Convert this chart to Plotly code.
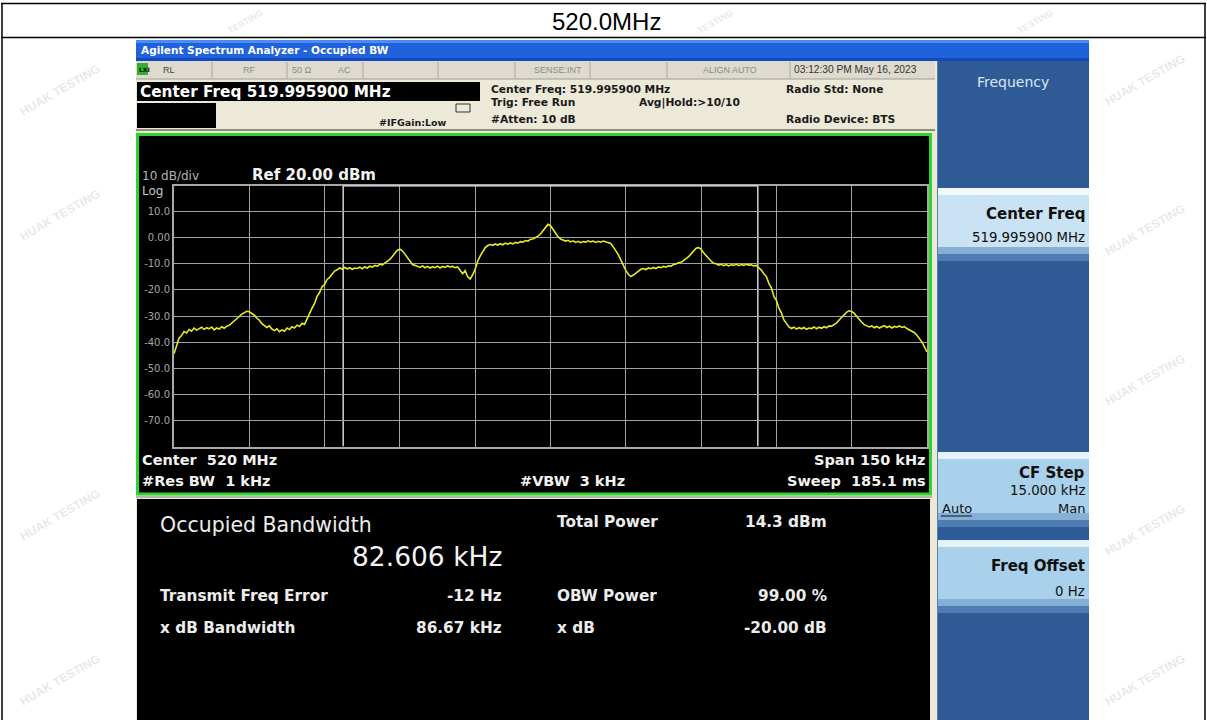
import plotly.graph_objects as go

# ---------------- data ----------------
FREQ_START_KHZ = -75.0      # center 520 MHz, span 150 kHz
FREQ_STEP_KHZ = 0.5
Y_REF_DBM = 20.0
Y_BOTTOM_DBM = -80.0

level_dbm = [
    # -75 .. -70
    -44.5, -41.0, -38.5, -37.5, -36.0, -36.5, -35.2, -35.8, -34.6, -35.4, -34.8,
    # -69.5 .. -60
    -34.3, -35.1, -34.5, -34.9, -34.2, -35.3, -34.6, -35.0, -34.1, -34.7,
    -33.9, -33.6, -32.8, -32.1, -31.0, -30.2, -29.3, -28.7, -28.2, -28.4,
    # -59.5 .. -50
    -28.9, -29.7, -30.8, -31.6, -32.9, -33.5, -34.4, -33.8, -35.0, -35.6,
    -34.9, -36.0, -35.3, -35.8, -34.6, -35.2, -34.1, -34.6, -33.5, -34.0,
    # -49.5 .. -40
    -32.8, -33.2, -31.0, -29.5, -27.0, -25.2, -22.5, -21.0, -18.8, -17.9,
    -16.0, -15.2, -13.9, -12.8, -12.3, -11.6, -12.0, -11.4, -11.9, -11.5,
    # -39.5 .. -30
    -12.1, -11.6, -11.8, -11.3, -11.9, -11.2, -11.6, -10.9, -11.3, -10.6,
    -10.9, -10.2, -10.4, -9.7, -9.2, -8.3, -7.2, -6.0, -4.8, -4.4,
    # -29.5 .. -20
    -5.0, -6.3, -7.8, -9.2, -10.3, -10.6, -10.9, -11.4, -10.8, -11.5,
    -11.0, -11.6, -11.1, -11.5, -10.9, -11.6, -11.0, -11.4, -10.8, -11.2,
    # -19.5 .. -10
    -11.0, -11.5, -11.2, -12.5, -13.8, -12.6, -15.0, -15.8, -14.2, -12.0,
    -9.0, -7.0, -5.5, -3.8, -3.0, -2.6, -2.9, -2.4, -2.8, -2.3,
    # -9.5 .. 0
    -2.7, -2.1, -2.5, -2.0, -2.4, -1.8, -2.1, -1.5, -1.7, -1.1,
    -1.3, -0.6, -0.5, 0.0, 0.6, 1.4, 2.8, 4.2, 5.1, 4.6,
    # 0.5 .. 10
    3.4, 1.8, 0.4, -0.5, -0.9, -1.3, -1.0, -1.6, -1.2, -1.8,
    -1.4, -1.9, -1.5, -1.7, -1.2, -1.6, -1.3, -1.8, -1.4, -1.7,
    # 10.5 .. 20
    -1.3, -1.5, -1.9, -2.2, -3.5, -4.8, -6.5, -8.5, -10.8, -12.5,
    -14.0, -14.9, -14.3, -13.5, -12.6, -12.1, -11.8, -12.2, -11.6, -11.9,
    # 20.5 .. 30
    -11.4, -11.8, -11.2, -11.5, -11.0, -11.3, -10.8, -10.9, -10.3, -10.1,
    -9.6, -9.4, -8.8, -8.2, -7.3, -6.2, -5.0, -4.0, -3.8, -4.4,
    # 30.5 .. 40
    -5.8, -6.9, -8.3, -9.0, -9.8, -10.0, -10.5, -10.2, -10.7, -10.3,
    -10.8, -10.4, -10.6, -10.1, -10.7, -10.3, -10.6, -10.2, -10.5, -10.4,
    # 40.5 .. 50
    -10.8, -10.6, -11.5, -12.4, -13.8, -14.9, -17.5, -19.2, -22.5, -24.0,
    -27.0, -28.8, -31.5, -32.8, -34.2, -34.8, -34.3, -35.0, -34.5, -34.9,
    # 50.5 .. 60
    -34.4, -35.1, -34.6, -34.8, -34.2, -34.9, -34.3, -34.7, -34.1, -34.5,
    -33.8, -33.9, -33.2, -32.6, -31.5, -30.4, -29.3, -28.5, -28.0, -28.3,
    # 60.5 .. 70
    -29.0, -30.2, -31.5, -32.4, -33.3, -33.6, -34.2, -33.8, -34.5, -34.0,
    -34.6, -34.1, -33.7, -34.4, -33.9, -34.6, -34.0, -34.3, -33.8, -34.4,
    # 70.5 .. 75
    -34.1, -34.8, -35.3, -35.9, -36.4, -37.4, -38.5, -40.0, -41.8, -43.8,
]
freq_khz = [FREQ_START_KHZ + i * FREQ_STEP_KHZ for i in range(len(level_dbm))]

x_grid_khz = [-60, -45, -30, -15, 0, 15, 30, 45, 60]
y_tick_vals = [10, 0, -10, -20, -30, -40, -50, -60, -70]
y_tick_text = ["10.0", "0.00", "-10.0", "-20.0", "-30.0", "-40.0", "-50.0", "-60.0", "-70.0"]

OBW_KHZ = 82.606

result_left_labels = ["Transmit Freq Error", "x dB Bandwidth"]
result_left_values = ["-12 Hz", "86.67 kHz"]
result_right_labels = ["Total Power", "OBW Power", "x dB"]
result_right_values = ["14.3 dBm", "99.00 %", "-20.00 dB"]

# ---------------- helpers ----------------
W, H = 1207, 720
SANS = "DejaVu Sans, Verdana, sans-serif"
ARIAL = "Liberation Sans, Arial, sans-serif"
RIGHT_EDGE = 1089      # right edge of the instrument screenshot
SK_TEXT_R = 1086       # right edge of soft-key texts


def px(x):
    return x / W


def py(y):
    return 1 - y / H


shapes = []
annotations = []


def rect(x0, y0, x1, y1, fill, line_color=None, line_width=0, layer="below"):
    shapes.append(dict(type="rect", xref="paper", yref="paper",
                       x0=px(x0), x1=px(x1), y0=py(y1), y1=py(y0),
                       fillcolor=fill,
                       line=dict(width=line_width, color=line_color or fill),
                       layer=layer))


def hline(x0, x1, y, color, width=1, layer="below"):
    shapes.append(dict(type="line", xref="paper", yref="paper",
                       x0=px(x0), x1=px(x1), y0=py(y), y1=py(y),
                       line=dict(color=color, width=width), layer=layer))


def vline(x, y0, y1, color, width=1, layer="below"):
    shapes.append(dict(type="line", xref="paper", yref="paper",
                       x0=px(x), x1=px(x), y0=py(y0), y1=py(y1),
                       line=dict(color=color, width=width), layer=layer))


def txt(x, y, s, size, color, anchor="left", bold=False, family=SANS, angle=0):
    annotations.append(dict(x=px(x), y=py(y), xref="paper", yref="paper",
                            text=f"<b>{s}</b>" if bold else s, showarrow=False,
                            xanchor=anchor, yanchor="middle", borderpad=0,
                            textangle=angle,
                            font=dict(size=size, color=color, family=family)))


# ---------------- faint watermarks (drawn first, underneath) ----------------
for (wx, wy) in [(1145, 80), (1145, 230), (1145, 380), (1145, 530), (1145, 680),
                 (60, 90), (60, 215), (60, 515), (60, 680)]:
    txt(wx, wy, "HUAK TESTING", 12, "rgba(175,175,175,0.30)", anchor="center",
        bold=True, family=ARIAL, angle=-30)
for (wx, wy) in [(245, 22), (715, 22), (1035, 22)]:
    txt(wx, wy, "TESTING", 9, "rgba(175,175,175,0.30)", anchor="center",
        bold=True, family=ARIAL, angle=-30)

# ---------------- outer document frame ----------------
hline(1, 1206, 3.5, "#000000", 1.5)
hline(1, 1206, 37.5, "#000000", 1.5)
vline(2, 3, 720, "#000000", 1.5)
vline(1205, 3, 720, "#000000", 1.5)
txt(606, 21, "520.0MHz", 24, "#000000", anchor="center", family=ARIAL)

# ---------------- screenshot background ----------------
rect(136, 40, RIGHT_EDGE, 720, "#ece9d8")

# title bar
rect(136, 40, RIGHT_EDGE, 61, "#1f62dc")
rect(136, 40, RIGHT_EDGE, 43, "#4a8ef4")
rect(136, 58, RIGHT_EDGE, 61, "#1448bd")
txt(140, 50.5, "Agilent Spectrum Analyzer - Occupied BW", 10.5, "#ffffff", bold=True)

# status row
rect(136, 61, 935, 79, "#dedad0")
hline(136, 935, 79, "#a09c90", 1)
for xd in [212, 287, 363, 438, 515, 590, 667, 790]:
    vline(xd, 62, 78, "#aaa69a", 1)
rect(137, 63, 148, 75, "#2fb02f")
txt(138, 69, "LXI", 6, "#000000", bold=True)
txt(162, 70, "RL", 9, "#444444", family=ARIAL)
txt(242, 70, "RF", 9, "#8a8a8a", family=ARIAL)
txt(291, 70, "50 Ω", 9, "#8a8a8a", family=ARIAL)
txt(337, 70, "AC", 9, "#8a8a8a", family=ARIAL)
txt(533, 70, "SENSE:INT", 9, "#8a8a8a", family=ARIAL)
txt(702, 70, "ALIGN AUTO", 9, "#8a8a8a", family=ARIAL)
txt(793, 70, "03:12:30 PM May 16, 2023", 10.2, "#333333", family=ARIAL)

# header
rect(137, 82, 480, 101, "#000000")
txt(139, 91.5, "Center Freq 519.995900 MHz", 15.3, "#ffffff", bold=True)
rect(137, 103, 216, 128, "#000000")
hline(136, 935, 130, "#8f8c82", 2)
txt(378, 122, "#IFGain:Low", 9.5, "#1a1a1a", bold=True)
shapes.append(dict(type="rect", xref="paper", yref="paper",
                   x0=px(456), x1=px(470), y0=py(112), y1=py(104),
                   line=dict(color="#333333", width=1), fillcolor="rgba(0,0,0,0)"))
txt(490, 89, "Center Freq: 519.995900 MHz", 10.7, "#1a1a1a", bold=True)
txt(490, 103, "Trig: Free Run", 10.7, "#1a1a1a", bold=True)
txt(490, 120, "#Atten: 10 dB", 10.7, "#1a1a1a", bold=True)
txt(638, 103, "Avg|Hold:&gt;10/10", 10.7, "#1a1a1a", bold=True)
txt(785, 89, "Radio Std: None", 10.7, "#1a1a1a", bold=True)
txt(785, 120, "Radio Device: BTS", 10.7, "#1a1a1a", bold=True)

# graph panel
rect(137, 134, 930, 494, "#000000")
rect(137.5, 134.5, 930.5, 494, "rgba(0,0,0,0)", "#2ed42e", 3)
txt(141, 176, "10 dB/div", 12, "#b4b4b4")
txt(141, 191, "Log", 12, "#c8c8c8")
txt(251, 175, "Ref 20.00 dBm", 15, "#f2f2f2", bold=True)
txt(141, 460, "Center  520 MHz", 14.5, "#f2f2f2", bold=True)
txt(141, 481, "#Res BW  1 kHz", 14.5, "#f2f2f2", bold=True)
txt(626, 481, "#VBW  3 kHz", 14.5, "#f2f2f2", anchor="right", bold=True)
txt(927, 460, "Span 150 kHz", 14.5, "#f2f2f2", anchor="right", bold=True)
txt(927, 481, "Sweep  185.1 ms", 14.5, "#f2f2f2", anchor="right", bold=True)

# result panel
hline(136, 932, 497, "#b9b6ac", 2)
rect(137, 499, 930, 720, "#000000")
txt(159, 525, "Occupied Bandwidth", 20.5, "#ececec")
txt(503, 556, f"{OBW_KHZ:.3f} kHz", 26.5, "#f4f4f4", anchor="right")
for i, (lab, val) in enumerate(zip(result_left_labels, result_left_values)):
    yy = 596 + 32 * i
    txt(159, yy, lab, 15.3, "#ececec", bold=True)
    txt(503, yy, val, 15.3, "#ececec", anchor="right", bold=True)
for lab, val, yy in zip(result_right_labels, result_right_values, [522, 596, 628]):
    txt(556, yy, lab, 15.3, "#ececec", bold=True)
    txt(828, yy, val, 15.3, "#ececec", anchor="right", bold=True)

# softkey panel
rect(937, 61, RIGHT_EDGE, 720, "#2e5b96")
vline(937.5, 61, 720, "#5a80b0", 1)
txt((937 + RIGHT_EDGE) / 2, 82, "Frequency", 14, "#dce7f3", anchor="center")


def softkey(y0, y1, main, top):
    rect(938, y0, RIGHT_EDGE, y1, main)
    rect(938, y0, RIGHT_EDGE, y0 + 7, top)
    rect(938, y1 - 14, RIGHT_EDGE, y1 - 7, "#86afd6")
    rect(938, y1 - 7, RIGHT_EDGE, y1, "#4f7db3")


softkey(188, 261, "#c9e3f4", "#f0f9fe")
txt(SK_TEXT_R, 214, "Center Freq", 15, "#101010", anchor="right", bold=True)
txt(SK_TEXT_R, 238, "519.995900 MHz", 13.3, "#101010", anchor="right")

softkey(452, 527, "#a9d1eb", "#e4f2fb")
txt(SK_TEXT_R, 473, "CF Step", 15, "#101010", anchor="right", bold=True)
txt(SK_TEXT_R, 490, "15.000 kHz", 13.3, "#101010", anchor="right")
txt(941, 508, "Auto", 13, "#101010")
hline(941, 972, 516, "#101010", 1, layer="above")
txt(SK_TEXT_R, 508, "Man", 13, "#101010", anchor="right")

softkey(540, 613, "#a9d1eb", "#e4f2fb")
txt(SK_TEXT_R, 566, "Freq Offset", 15, "#101010", anchor="right", bold=True)
txt(SK_TEXT_R, 591, "0 Hz", 13.3, "#101010", anchor="right")

# ---------------- OBW markers (data coordinates) ----------------
half = OBW_KHZ / 2
for xv in (-half, half):
    shapes.append(dict(type="line", xref="x", yref="y", x0=xv, x1=xv,
                       y0=Y_BOTTOM_DBM, y1=Y_REF_DBM,
                       line=dict(color="#f4f4f4", width=1.3), layer="below"))
shapes.append(dict(type="line", xref="x", yref="y", x0=-half, x1=half,
                   y0=Y_REF_DBM, y1=Y_REF_DBM,
                   line=dict(color="#f4f4f4", width=2), layer="above"))

# ---------------- figure ----------------
fig = go.Figure()
fig.add_trace(go.Scatter(x=freq_khz, y=level_dbm, mode="lines",
                         line=dict(color="#e8e824", width=1.6),
                         hoverinfo="skip", showlegend=False))

fig.update_layout(
    width=W, height=H, autosize=False,
    margin=dict(l=0, r=0, t=0, b=0, pad=0),
    paper_bgcolor="#ffffff", plot_bgcolor="#000000",
    showlegend=False,
    shapes=shapes, annotations=annotations,
    xaxis=dict(domain=[px(174), px(927)], range=[FREQ_START_KHZ, -FREQ_START_KHZ],
               tickvals=x_grid_khz, showticklabels=False, ticks="",
               showgrid=True, gridcolor="#a2a2a2", gridwidth=1,
               zeroline=False, showline=True, mirror=True,
               linecolor="#a8a8a8", linewidth=2, fixedrange=True),
    yaxis=dict(domain=[py(446.5), py(185.5)], range=[Y_BOTTOM_DBM, Y_REF_DBM],
               tickvals=y_tick_vals, ticktext=y_tick_text, ticks="",
               tickfont=dict(family=SANS, size=10, color="#a4a4a4"),
               showgrid=True, gridcolor="#a2a2a2", gridwidth=1,
               zeroline=False, showline=True, mirror=True,
               linecolor="#a8a8a8", linewidth=2, fixedrange=True),
)

fig.write_html(
    "out.html",
    config={"displayModeBar": False},
    post_script="document.body.style.margin='0';document.body.style.overflow='hidden';",
)
